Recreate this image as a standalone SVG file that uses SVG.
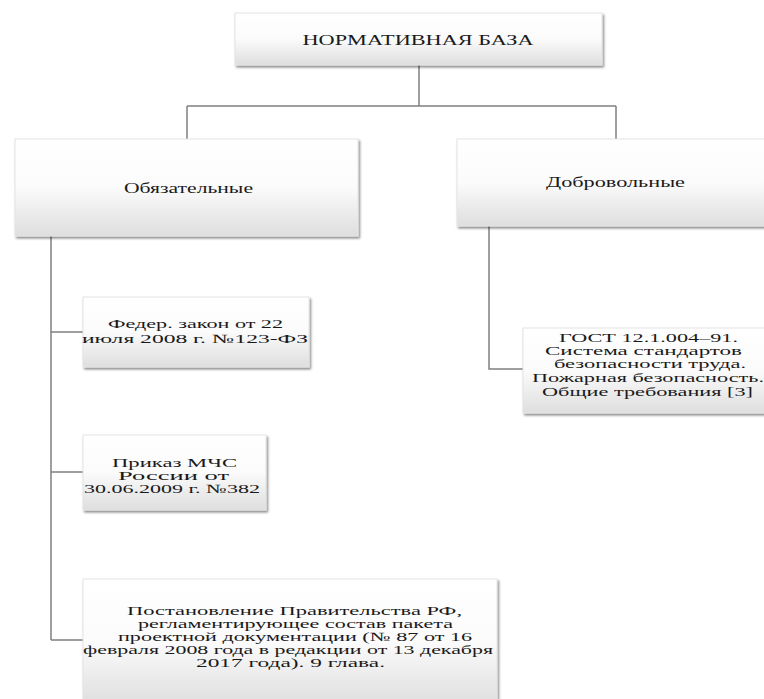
<svg xmlns="http://www.w3.org/2000/svg" width="764" height="699" viewBox="0 0 764 699">
<defs>
<linearGradient id="g" x1="0" y1="0" x2="0" y2="1">
<stop offset="0" stop-color="#ffffff"/>
<stop offset="0.5" stop-color="#fbfbfb"/>
<stop offset="1" stop-color="#dedede"/>
</linearGradient>
<filter id="sh" x="-5%" y="-5%" width="115%" height="125%">
<feDropShadow dx="1.5" dy="2" stdDeviation="1.2" flood-color="#000" flood-opacity="0.45"/>
</filter>
</defs>
<style>
.box{fill:url(#g);stroke:#e4e4e4;stroke-width:1;filter:url(#sh)}
.t{font-family:'Liberation Serif','DejaVu Serif',serif;fill:#1a1a1a;text-anchor:middle}
.h{font-size:15px}
.s{font-size:12.5px}
.c{fill:none;stroke:#808080;stroke-width:1.5}
</style>
<rect width="764" height="699" fill="#ffffff"/>
<g id="connectors">
<path class="c" d="M419 65V106M187 106H616M187 106V139M616 106V139"/>
<path class="c" d="M51 236V640M51 332H83M51 472H83M51 640H83"/>
<path class="c" d="M489 226V369H523"/>
</g>
<g id="root">
<rect class="box" x="235" y="13" width="367" height="52"/>
<text class="t h" x="418" y="45" textLength="231" lengthAdjust="spacingAndGlyphs">НОРМАТИВНАЯ БАЗА</text>
</g>
<g id="mandatory">
<rect class="box" x="15" y="139" width="343" height="97"/>
<text class="t h" x="188.5" y="193" textLength="129" lengthAdjust="spacingAndGlyphs">Обязательные</text>
</g>
<g id="voluntary">
<rect class="box" x="457" y="139" width="315" height="87"/>
<text class="t h" x="615.5" y="187" textLength="139" lengthAdjust="spacingAndGlyphs">Добровольные</text>
</g>
<g id="fedlaw">
<rect class="box" x="83" y="297" width="226" height="70"/>
<text class="t s" x="195.5" y="328" textLength="175" lengthAdjust="spacingAndGlyphs">Федер. закон от 22</text>
<text class="t s" x="195" y="343" textLength="226" lengthAdjust="spacingAndGlyphs">июля 2008 г. №123-ФЗ</text>
</g>
<g id="prikaz">
<rect class="box" x="83" y="435" width="183" height="75"/>
<text class="t s" x="174.5" y="467" textLength="125" lengthAdjust="spacingAndGlyphs">Приказ МЧС</text>
<text class="t s" x="173.5" y="480" textLength="111" lengthAdjust="spacingAndGlyphs">России от</text>
<text class="t s" x="172" y="493" textLength="176" lengthAdjust="spacingAndGlyphs">30.06.2009  г. №382</text>
</g>
<g id="gost">
<rect class="box" x="523" y="328" width="249" height="85"/>
<text class="t s" x="648.5" y="342" textLength="179" lengthAdjust="spacingAndGlyphs">ГОСТ 12.1.004–91.</text>
<text class="t s" x="643.5" y="355" textLength="197" lengthAdjust="spacingAndGlyphs">Система стандартов</text>
<text class="t s" x="650" y="368" textLength="192" lengthAdjust="spacingAndGlyphs">безопасности труда.</text>
<text class="t s" x="648" y="382" textLength="232" lengthAdjust="spacingAndGlyphs">Пожарная  безопасность.</text>
<text class="t s" x="647.5" y="396" textLength="211" lengthAdjust="spacingAndGlyphs">Общие требования [3]</text>
</g>
<g id="postanovlenie">
<rect class="box" x="83" y="579" width="414" height="126"/>
<text class="t s" x="294.5" y="615" textLength="335" lengthAdjust="spacingAndGlyphs">Постановление Правительства РФ,</text>
<text class="t s" x="295.5" y="628" textLength="315" lengthAdjust="spacingAndGlyphs">регламентирующее состав пакета</text>
<text class="t s" x="295" y="641" textLength="354" lengthAdjust="spacingAndGlyphs">проектной документации (№ 87 от 16</text>
<text class="t s" x="288" y="654" textLength="410" lengthAdjust="spacingAndGlyphs">февраля 2008 года в редакции от 13 декабря</text>
<text class="t s" x="290.5" y="667" textLength="189" lengthAdjust="spacingAndGlyphs">2017 года). 9 глава.</text>
</g>
</svg>
